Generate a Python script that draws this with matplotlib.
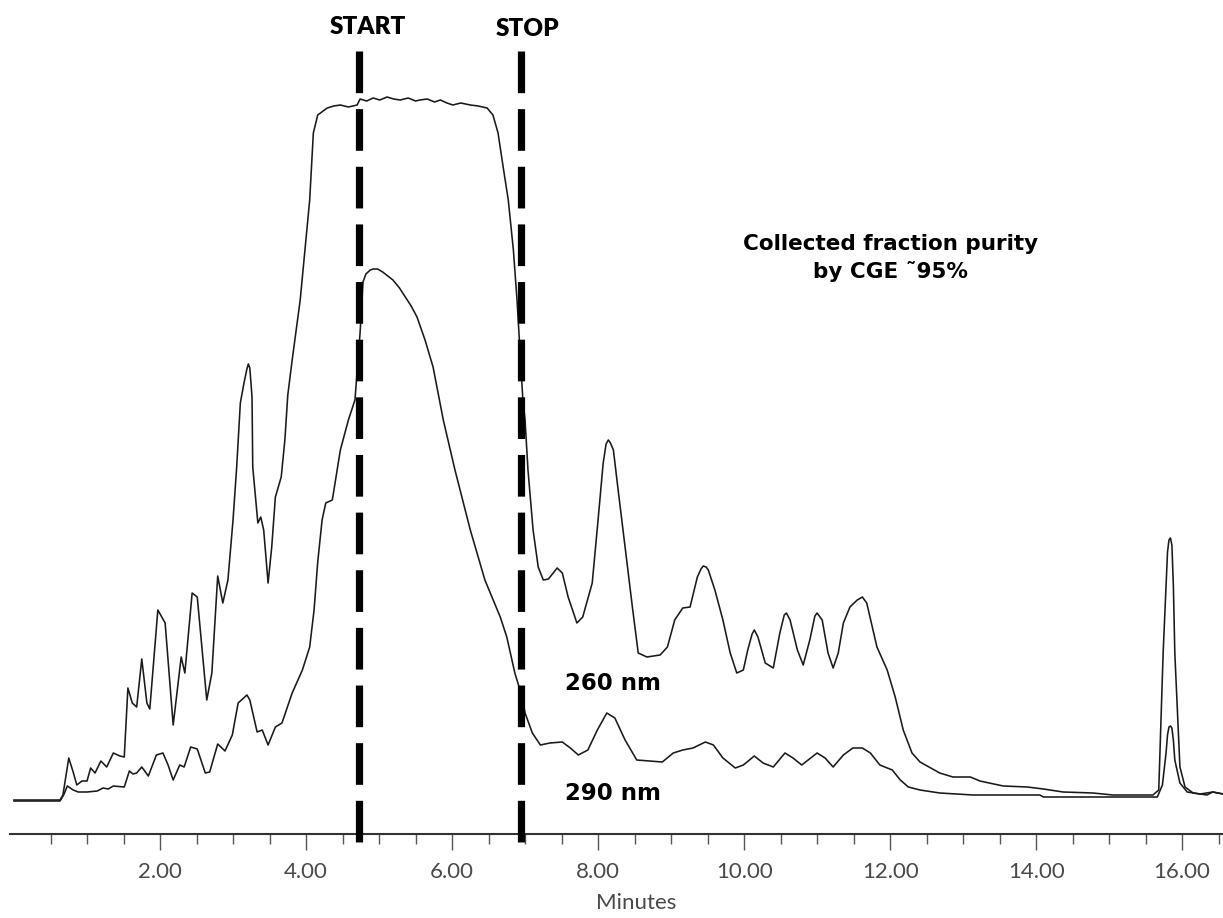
import matplotlib
matplotlib.use("Agg")
import matplotlib.pyplot as plt
from matplotlib.ticker import FixedLocator, FixedFormatter

# chromatogram: time in minutes, signal in arbitrary units
t_260 = [0.00, 0.63, 0.67, 0.75, 0.81, 0.86, 0.93, 1.00, 1.05, 1.11, 1.19, 1.27, 1.36, 1.45, 1.51,
         1.56, 1.62, 1.68, 1.75, 1.82, 1.86, 1.97, 2.07, 2.18, 2.29, 2.34, 2.44, 2.51, 2.64, 2.71,
         2.79, 2.86, 2.93, 3.00, 3.05, 3.10, 3.15, 3.19, 3.21, 3.23, 3.26, 3.27, 3.32, 3.34, 3.38,
         3.42, 3.48, 3.53, 3.58, 3.66, 3.71, 3.75, 3.81, 3.92, 4.05, 4.10, 4.16, 4.29, 4.38, 4.47,
         4.58, 4.70, 4.74, 4.83, 4.92, 5.01, 5.11, 5.20, 5.29, 5.40, 5.50, 5.56, 5.66, 5.76, 5.84,
         5.93, 6.01, 6.12, 6.25, 6.36, 6.48, 6.56, 6.63, 6.70, 6.77, 6.84, 6.89, 6.93, 6.97, 7.00,
         7.04, 7.11, 7.18, 7.25, 7.32, 7.44, 7.51, 7.59, 7.71, 7.79, 7.92, 8.00, 8.07, 8.11, 8.14,
         8.17, 8.21, 8.27, 8.37, 8.47, 8.55, 8.67, 8.85, 8.95, 9.05, 9.16, 9.26, 9.36, 9.41, 9.44,
         9.48, 9.51, 9.60, 9.71, 9.81, 9.90, 9.99, 10.05, 10.11, 10.14, 10.19, 10.29, 10.40, 10.49,
         10.55, 10.58, 10.63, 10.73, 10.81, 10.90, 10.97, 11.00, 11.07, 11.15, 11.22, 11.29, 11.36,
         11.45, 11.55, 11.62, 11.68, 11.82, 11.96, 12.07, 12.18, 12.30, 12.41, 12.68, 12.86, 13.10,
         13.23, 13.55, 13.88, 14.10, 14.37, 14.78, 15.05, 15.60, 15.68, 15.74, 15.80, 15.82, 15.84,
         15.86, 15.88, 15.90, 15.97, 16.04, 16.15, 16.34, 16.42, 16.56]
y_260 = [0, 0, 5, 42, 28, 15, 19, 19, 32, 27, 39, 33, 47, 44, 43,
         112, 97, 93, 141, 97, 91, 190, 177, 75, 143, 127, 207, 203, 100, 127,
         224, 197, 220, 280, 333, 397, 417, 431, 436, 432, 403, 333, 293, 277, 283,
         270, 217, 253, 303, 323, 360, 405, 440, 500, 600, 667, 685, 692, 694, 695,
         693, 695, 701, 699, 702, 700, 703, 701, 700, 702, 699, 700, 701, 698, 700,
         697, 695, 697, 695, 694, 692, 685, 667, 633, 600, 550, 500, 450, 400, 380,
         330, 270, 233, 220, 221, 232, 227, 203, 177, 183, 217, 280, 337, 356, 360,
         357, 350, 313, 253, 193, 147, 143, 145, 153, 180, 192, 193, 223, 231, 234,
         233, 230, 210, 180, 147, 127, 130, 150, 166, 170, 163, 137, 132, 167,
         185, 187, 180, 150, 135, 160, 184, 187, 180, 147, 132, 147, 177,
         193, 200, 203, 197, 153, 130, 103, 70, 47, 38, 27, 23, 23,
         19, 14, 13, 11, 8, 7, 5, 5, 10, 147, 248, 260, 262,
         255, 215, 147, 33, 13, 7, 5, 8, 6]

t_290 = [0.00, 0.63, 0.68, 0.73, 0.81, 0.88, 1.00, 1.14, 1.22, 1.29, 1.36, 1.51, 1.58, 1.63, 1.68,
         1.75, 1.84, 1.95, 2.04, 2.11, 2.18, 2.27, 2.33, 2.42, 2.51, 2.62, 2.68, 2.79, 2.89, 2.99,
         3.07, 3.19, 3.23, 3.33, 3.40, 3.48, 3.58, 3.67, 3.81, 3.95, 4.05, 4.11, 4.16, 4.22, 4.27,
         4.36, 4.47, 4.58, 4.67, 4.74, 4.78, 4.82, 4.88, 4.92, 4.98, 5.05, 5.12, 5.19, 5.28, 5.36,
         5.44, 5.52, 5.63, 5.74, 5.88, 6.04, 6.25, 6.45, 6.66, 6.75, 6.86, 6.96, 7.00, 7.10, 7.21,
         7.34, 7.51, 7.62, 7.73, 7.86, 7.99, 8.12, 8.23, 8.37, 8.53, 8.88, 9.03, 9.16, 9.30, 9.47,
         9.58, 9.71, 9.88, 9.99, 10.14, 10.26, 10.40, 10.56, 10.67, 10.79, 11.00, 11.11, 11.22,
         11.36, 11.49, 11.62, 11.73, 11.86, 12.03, 12.14, 12.25, 12.41, 12.68, 13.14, 14.05, 14.10,
         15.25, 15.66, 15.73, 15.78, 15.80, 15.82, 15.84, 15.86, 15.88, 15.90, 15.97, 16.07, 16.25,
         16.42, 16.56]
y_290 = [-1, -1, 5, 14, 10, 8, 8, 9, 12, 11, 14, 13, 29, 26, 27,
         33, 24, 45, 47, 35, 20, 35, 33, 53, 51, 27, 28, 56, 49, 65,
         97, 105, 100, 68, 70, 55, 73, 77, 107, 130, 153, 190, 238, 280, 297,
         300, 350, 380, 400, 467, 518, 526, 530, 531, 531, 528, 524, 520, 512, 503,
         494, 483, 460, 433, 380, 330, 270, 220, 183, 163, 127, 103, 87, 67, 55,
         57, 58, 52, 45, 50, 70, 87, 82, 60, 40, 38, 47, 50, 52, 58,
         55, 42, 32, 35, 44, 37, 33, 47, 42, 35, 47, 42, 33,
         45, 52, 52, 47, 35, 30, 20, 13, 10, 7, 5, 5, 3,
         3, 3, 15, 47, 65, 73, 74, 72, 60, 40, 17, 8, 6,
         8, 6]

start_min = 4.73
stop_min = 6.95
major_ticks = [2, 4, 6, 8, 10, 12, 14, 16]
tick_labels = ["2.00", "4.00", "6.00", "8.00", "10.00", "12.00", "14.00", "16.00"]
minor_ticks = [m / 2 for m in range(1, 34) if m % 4 != 0]

plt.rcParams['lines.scale_dashes'] = False
caps_font = ['Lato', 'DejaVu Sans']
bold_font = ['DejaVu Sans']
light_font = ['Lato', 'DejaVu Sans']

fig = plt.figure(figsize=(12.23, 9.18), dpi=100)
ax = fig.add_axes([10 / 1223, 84 / 918, 1213 / 1223, 834 / 918])

ax.plot(t_260, y_260, color='#1a1a1a', lw=1.15)
ax.plot(t_290, y_290, color='#1a1a1a', lw=1.15)

# fraction collection window
for x in (start_min, stop_min):
    ax.plot([x, x], [749, -48], color='black', lw=5.2, dashes=(30, 11.5),
            solid_capstyle='butt', dash_capstyle='butt', clip_on=False, zorder=3)

ax.text(4.85, 773, "START", ha='center', va='center', fontsize=17.5,
        family=caps_font, weight='heavy')
ax.text(7.04, 771, "STOP", ha='center', va='center', fontsize=17.5,
        family=caps_font, weight='heavy')
ax.text(12.0, 542, "Collected fraction purity\nby CGE \u02dc95%", ha='center', va='center',
        fontsize=15.5, family=bold_font, weight='bold', linespacing=1.4)
ax.text(8.21, 117, "260 nm", ha='center', va='center', fontsize=16.5,
        family=bold_font, weight='bold')
ax.text(8.21, 6, "290 nm", ha='center', va='center', fontsize=16.5,
        family=bold_font, weight='bold')

ax.set_xlim(-0.055, 16.56)
ax.set_ylim(-34, 800)
for s in ('top', 'right', 'left'):
    ax.spines[s].set_visible(False)
ax.spines['bottom'].set_color('#333333')
ax.spines['bottom'].set_linewidth(1.5)
ax.set_yticks([])

ax.xaxis.set_major_locator(FixedLocator(major_ticks))
ax.xaxis.set_major_formatter(FixedFormatter(tick_labels))
ax.xaxis.set_minor_locator(FixedLocator(minor_ticks))
ax.tick_params(axis='x', which='major', direction='out', length=11.5, width=1.0,
               color='#555555', pad=9, labelsize=16, labelcolor='#4a4a4a')
ax.tick_params(axis='x', which='minor', direction='out', length=7, width=1.0,
               color='#555555')
for lab in ax.get_xticklabels():
    lab.set_family(light_font)
    lab.set_weight('normal')

fig.text(636 / 1223, 1 - 903 / 918, "Minutes", ha='center', va='center',
         fontsize=16, family=light_font, weight='normal', color='#4a4a4a')

fig.savefig("out.png", dpi=100)
